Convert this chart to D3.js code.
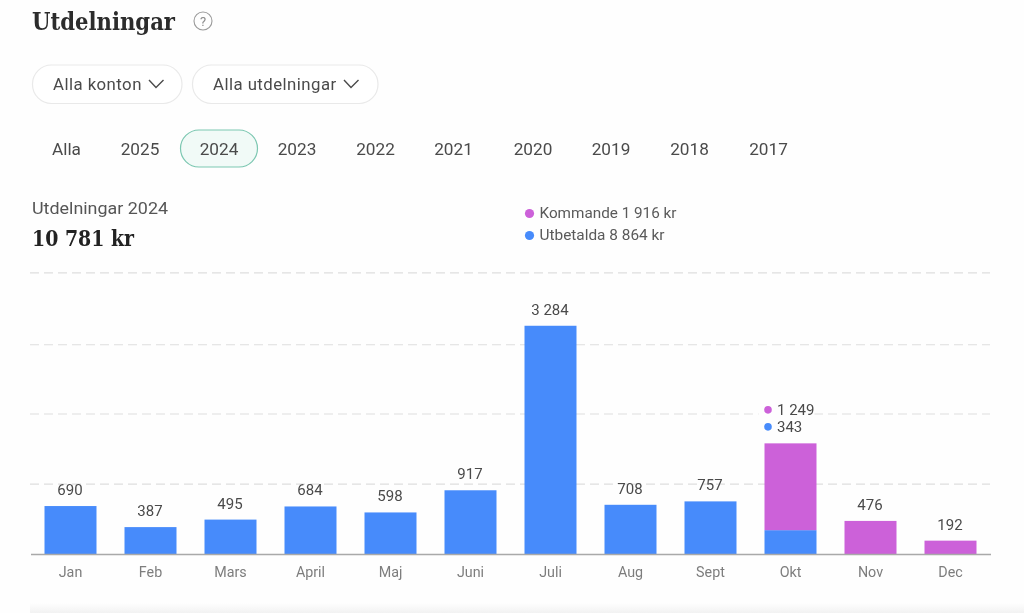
<!DOCTYPE html>
<html><head><meta charset="utf-8">
<script src="https://cdn.jsdelivr.net/npm/d3@7/dist/d3.min.js"></script>
<style>
html,body{margin:0;padding:0;background:#fefefe;overflow:hidden}
text{font-family:Roboto,sans-serif}
svg{filter:blur(0.35px)}
</style></head><body>
<svg id="c" width="1024" height="613"></svg>
<script>
const months=["Jan","Feb","Mars","April","Maj","Juni","Juli","Aug","Sept","Okt","Nov","Dec"];
const paid=[690,387,495,684,598,917,3284,708,757,343,0,0];
const upcoming=[0,0,0,0,0,0,0,0,0,1249,476,192];
const gridValues=[1005,2015,3010,4045];
const years=["Alla","2025","2024","2023","2022","2021","2020","2019","2018","2017"];
const yearX=[66.5,140,219,297,375.5,453.5,533,611,689.5,768.5];
const legendNames=["Kommande 1 916 kr","Utbetalda 8 864 kr"];
const BLUE="#478bfb",PURPLE="#cc61d9",TXT="#4a4a4a";

const svg=d3.select("#c");
const x=d3.scaleBand().domain(months).range([30.5,990.5]).paddingInner(0.35).paddingOuter(0.175);
const y=d3.scaleLinear().domain([0,4000]).range([554,276]);
const fmt=v=>String(v).replace(/\B(?=(\d{3})+$)/g," ");
const t=(px,py,s,size,fill,anchor,extra)=>{const e=svg.append("text").attr("x",px).attr("y",py).attr("font-size",size).attr("fill",fill).attr("text-anchor",anchor||"start").text(s);if(extra)extra(e);return e;};
const slab=e=>e.style("font-family","'DejaVu Serif',serif").style("font-stretch","condensed").attr("font-weight",700);

// header
t(32,29.5,"Utdelningar",24,"#2c2c2c","start",e=>{slab(e);e.attr("textLength",143).attr("lengthAdjust","spacingAndGlyphs");});
svg.append("circle").attr("cx",203).attr("cy",21).attr("r",9).attr("fill","none").attr("stroke","#9b9b9b").attr("stroke-width",1.1);
t(203,25.8,"?",13,"#8a8a8a","middle");

// filter pills
[[32,150,"Alla konton",53,149],[192,186,"Alla utdelningar",213,344]].forEach(([px,w,s,tx,cx])=>{
  svg.append("rect").attr("x",px+.5).attr("y",65).attr("width",w-.5).attr("height",38.5).attr("rx",19).attr("fill","#fff").attr("stroke","#e9e9e9").attr("stroke-width",1.2);
  t(tx,89.5,s,16.8,TXT,"start",e=>e.style("letter-spacing","0.45px"));
  svg.append("path").attr("d",d3.line()([[cx,80],[cx+7,87.5],[cx+14.5,80]])).attr("fill","none").attr("stroke","#4a4a4a").attr("stroke-width",1.4);
});

// year tabs
svg.append("rect").attr("x",180.5).attr("y",130).attr("width",77).attr("height",37).attr("rx",18.5).attr("fill","#f1faf7").attr("stroke","#7cc7b1").attr("stroke-width",1.2);
years.forEach((s,i)=>t(yearX[i],154.5,s,17.2,TXT,"middle"));

// summary
t(32,214,"Utdelningar 2024",16,"#555","start",e=>e.attr("textLength",136).attr("lengthAdjust","spacingAndGlyphs"));
t(32,246,"10 781 kr",22,"#222","start",e=>{slab(e);e.attr("textLength",102).attr("lengthAdjust","spacingAndGlyphs");});

// legend
[[213,PURPLE],[235,BLUE]].forEach(([py,c],i)=>{
  svg.append("circle").attr("cx",529.5).attr("cy",py+.5).attr("r",4.6).attr("fill",c);
  t(539.5,py+5,legendNames[i],14.5,"#5a5a5a","start",e=>e.attr("textLength",i?125:137).attr("lengthAdjust","spacingAndGlyphs"));
});

// grid
svg.append("g").selectAll("line").data(gridValues).join("line")
  .attr("x1",30).attr("x2",990).attr("y1",d=>y(d)).attr("y2",d=>y(d))
  .attr("stroke","#dedede").attr("stroke-width",1.1).attr("stroke-dasharray","9 5");

// bars
const bars=svg.append("g");
months.forEach((m,i)=>{
  if(paid[i]>0) bars.append("rect").attr("x",x(m)).attr("width",x.bandwidth()).attr("y",y(paid[i])).attr("height",y(0)-y(paid[i])).attr("fill",BLUE);
  if(upcoming[i]>0) bars.append("rect").attr("x",x(m)).attr("width",x.bandwidth()).attr("y",y(paid[i]+upcoming[i])).attr("height",y(paid[i])-y(paid[i]+upcoming[i])).attr("fill",PURPLE);
});

// x axis
const ax=svg.append("g").attr("transform","translate(0,554)").call(d3.axisBottom(x).tickSize(0).tickPadding(13));
ax.select(".domain").attr("stroke","#a9a9a9").attr("stroke-width",1.3);
ax.selectAll("text").attr("font-size",14.3).attr("fill","#7d7d7d").style("font-family","Roboto,sans-serif");

// value labels
months.forEach((m,i)=>{
  const cx=x(m)+x.bandwidth()/2-.5, total=paid[i]+upcoming[i];
  if(paid[i]>0&&upcoming[i]>0){
    const left=x(m);
    [[upcoming[i],PURPLE,-33.5],[paid[i],BLUE,-16.5]].forEach(([v,c,dy])=>{
      const py=y(total)+dy;
      svg.append("rect").attr("x",left-6).attr("y",py-8).attr("width",56).attr("height",15).attr("fill","#fefefe");
      svg.append("circle").attr("cx",left+3.5).attr("cy",py).attr("r",3.8).attr("fill",c);
      t(left+12.5,py+5,fmt(v),15,TXT);
    });
  } else {
    t(cx,y(total)-11,fmt(total),15,TXT,"middle");
  }
});

// bottom shadow
const g=svg.append("defs").append("linearGradient").attr("id","sh").attr("x1",0).attr("x2",0).attr("y1",0).attr("y2",1);
g.append("stop").attr("offset",0).attr("stop-color","#fefefe");
g.append("stop").attr("offset",1).attr("stop-color","#f2f2f2");
svg.append("rect").attr("x",30).attr("y",603).attr("width",994).attr("height",10).attr("fill","url(#sh)");
</script>
</body></html>
